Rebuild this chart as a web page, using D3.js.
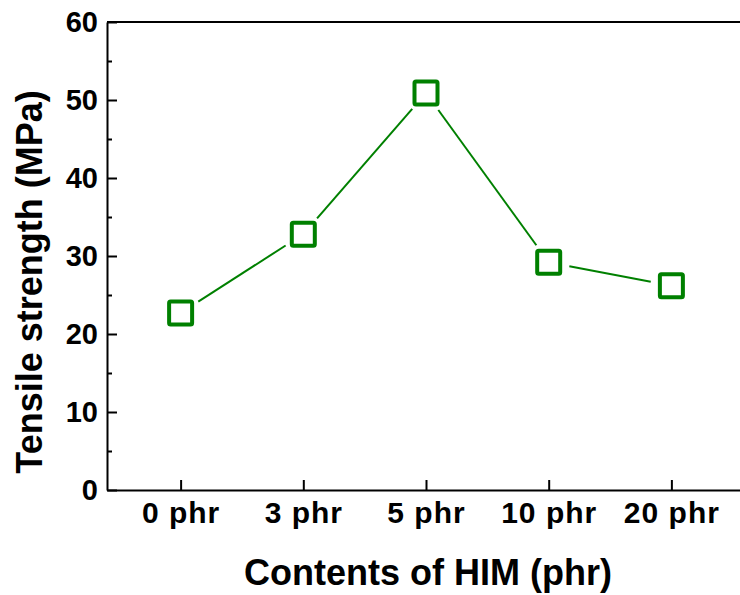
<!DOCTYPE html>
<html>
<head>
<meta charset="utf-8">
<script src="https://cdn.jsdelivr.net/npm/d3@7.9.0/dist/d3.min.js"></script>
<style>
  body { margin: 0; background: #fff; }
  svg text { font-family: "Liberation Sans", Arial, sans-serif; font-weight: bold; fill: #000; }
</style>
</head>
<body>
<svg id="chart" width="740" height="595"></svg>
<script>
const categories = ['0 phr', '3 phr', '5 phr', '10 phr', '20 phr'];
const strength = [22.7, 32.8, 50.9, 29.2, 26.2];
const yTicks = [0, 10, 20, 30, 40, 50, 60];
const yMinorTicks = [5, 15, 25, 35, 45, 55];

const svg = d3.select('#chart');
const plotLeft = 107, plotRight = 745, plotTop = 22, plotBottom = 490;
const green = '#008000';

const x = d3.scalePoint().domain(categories).range([plotLeft, plotRight]).padding(0.6);
const y = d3.scaleLinear().domain([0, 60]).range([plotBottom, plotTop]);

// y axis, ticks pointing inward
const yAxis = svg.append('g').attr('transform', `translate(${plotLeft},0)`)
  .call(d3.axisLeft(y).tickValues(yTicks).tickSize(-10).tickSizeOuter(0).tickPadding(9));
svg.append('g').attr('transform', `translate(${plotLeft},0)`)
  .call(d3.axisLeft(y).tickValues(yMinorTicks).tickSize(-5).tickSizeOuter(0).tickFormat(''))
  .call(g => g.select('.domain').remove());

// x axis
const xAxis = svg.append('g').attr('transform', `translate(0,${plotBottom})`)
  .call(d3.axisBottom(x).tickSize(-10).tickSizeOuter(0).tickPadding(12));

svg.selectAll('.domain, .tick line').attr('stroke', '#000').attr('stroke-width', 2);
yAxis.selectAll('text').attr('font-size', 29).attr('fill', '#000');
xAxis.selectAll('text').attr('font-size', 30).attr('letter-spacing', 1).attr('fill', '#000');

// top frame line
svg.append('line')
  .attr('x1', plotLeft).attr('x2', plotRight).attr('y1', plotTop).attr('y2', plotTop)
  .attr('stroke', '#000').attr('stroke-width', 2);

// axis titles
svg.append('text')
  .attr('x', 428).attr('y', 585)
  .attr('text-anchor', 'middle').attr('font-size', 36)
  .text('Contents of HIM (phr)');
svg.append('text')
  .attr('transform', 'translate(42,282) rotate(-90)')
  .attr('text-anchor', 'middle').attr('font-size', 36)
  .text('Tensile strength (MPa)');

// connecting segments, trimmed so they stop short of the markers
const pts = categories.map((c, i) => [x(c), y(strength[i])]);
const gap = 21;
const segs = d3.pairs(pts).map(([a, b]) => {
  const dx = b[0] - a[0], dy = b[1] - a[1];
  const len = Math.hypot(dx, dy);
  const ux = dx / len, uy = dy / len;
  return [a[0] + ux * gap, a[1] + uy * gap, b[0] - ux * gap, b[1] - uy * gap];
});
svg.selectAll('line.seg').data(segs).enter().append('line')
  .attr('class', 'seg')
  .attr('x1', d => d[0]).attr('y1', d => d[1])
  .attr('x2', d => d[2]).attr('y2', d => d[3])
  .attr('stroke', green).attr('stroke-width', 2);

// square markers
const size = 23;
svg.selectAll('rect.pt').data(strength).enter().append('rect')
  .attr('class', 'pt')
  .attr('x', (d, i) => x(categories[i]) - size / 2)
  .attr('y', d => y(d) - size / 2)
  .attr('width', size).attr('height', size)
  .attr('rx', 1.5)
  .attr('fill', 'none').attr('stroke', green).attr('stroke-width', 4);
</script>
</body>
</html>
